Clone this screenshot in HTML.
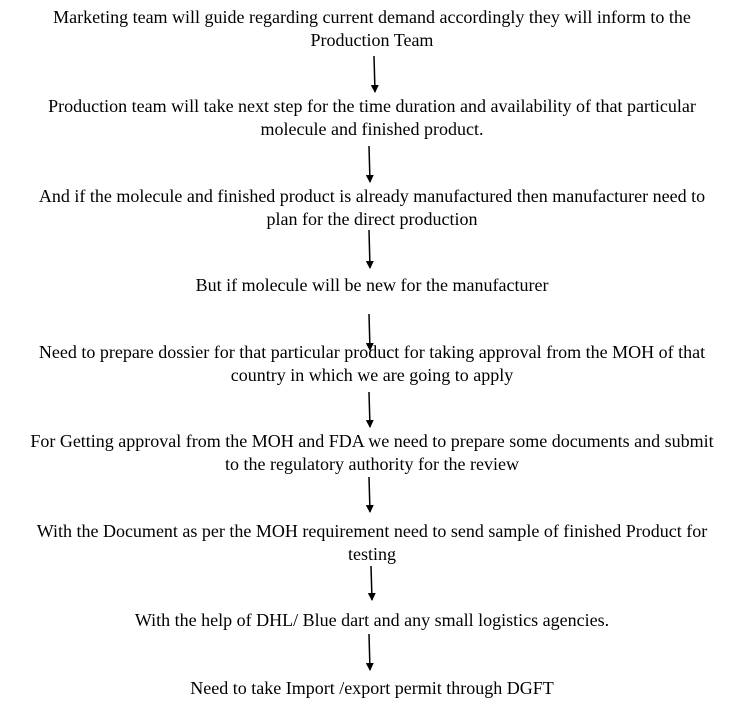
<!DOCTYPE html>
<html><head><meta charset="utf-8"><style>
html,body{margin:0;padding:0;background:#fff;}
body{width:744px;height:713px;position:relative;overflow:hidden;font-family:"Liberation Serif",serif;font-size:18px;color:#000;}
.t{position:absolute;left:0;width:744px;text-align:center;line-height:23px;white-space:nowrap;}
svg{position:absolute;left:0;top:0;}
</style></head><body>
<div class="t" style="top:6px">Marketing team will guide regarding current demand accordingly they will inform to the<br>Production Team</div>
<div class="t" style="top:95px">Production team will take next step for the time duration and availability of that particular<br>molecule and finished product.</div>
<div class="t" style="top:185px">And if the molecule and finished product is already manufactured then manufacturer need to<br>plan for the direct production</div>
<div class="t" style="top:274px">But if molecule will be new for the manufacturer</div>
<div class="t" style="top:341px">Need to prepare dossier for that particular product for taking approval from the MOH of that<br>country in which we are going to apply</div>
<div class="t" style="top:430px">For Getting approval from the MOH and FDA we need to prepare some documents and submit<br>to the regulatory authority for the review</div>
<div class="t" style="top:520px">With the Document as per the MOH requirement need to send sample of finished Product for<br>testing</div>
<div class="t" style="top:609px">With the help of DHL/ Blue dart and any small logistics agencies.</div>
<div class="t" style="top:677px">Need to take Import /export permit through DGFT</div>
<svg width="744" height="713">
<defs><marker id="a" markerWidth="8" markerHeight="8" refX="7" refY="4" orient="auto" markerUnits="userSpaceOnUse"><path d="M0,0 L8,4 L0,8 Z" fill="#000"/></marker></defs>
<g stroke="#000" stroke-width="1.5" marker-end="url(#a)">
<line x1="374" y1="56" x2="375" y2="92"/>
<line x1="369" y1="146" x2="370" y2="182"/>
<line x1="369" y1="230" x2="370" y2="268"/>
<line x1="369" y1="314" x2="370" y2="350"/>
<line x1="369" y1="392" x2="370" y2="427"/>
<line x1="369" y1="477" x2="370" y2="512"/>
<line x1="371" y1="566" x2="372" y2="600"/>
<line x1="369" y1="634" x2="370" y2="670"/>
</g></svg>
</body></html>
